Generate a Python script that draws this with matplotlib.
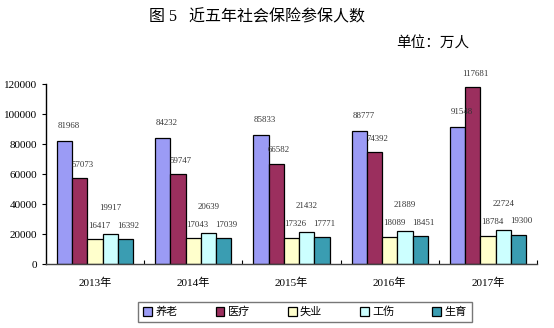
import numpy as np
import matplotlib.pyplot as plt
from matplotlib.ticker import MultipleLocator

plt.rcParams['font.family'] = ['Liberation Serif', 'Noto Sans CJK SC', 'DejaVu Sans']

years = ['2013年', '2014年', '2015年', '2016年', '2017年']
series = ['养老', '医疗', '失业', '工伤', '生育']
yanglao = [81968, 84232, 85833, 88777, 91548]
yiliao = [57073, 59747, 66582, 74392, 117681]
shiye = [16417, 17043, 17326, 18089, 18784]
gongshang = [19917, 20639, 21432, 21889, 22724]
shengyu = [16392, 17039, 17771, 18451, 19300]
colors = ['#9b9bf5', '#9b2f5e', '#ffffcc', '#ccffff', '#3a9db2']

data = [yanglao, yiliao, shiye, gongshang, shengyu]

fig = plt.figure(figsize=(5.54, 3.28), dpi=100)
ax = fig.add_axes([46/554, 64/328, 491/554, 180/328])

x = np.arange(len(years))
w = 0.155
# label offsets in points (dx, dy)
offs = [(3, 8), (2, 7), (3, 7), (0, 16), (2, 7)]
for i, (vals, c) in enumerate(zip(data, colors)):
    pos = x - 2 * w + i * w
    ax.bar(pos, vals, w, color=c, edgecolor='black', linewidth=0.9, label=series[i])
    for p, v in zip(pos, vals):
        ax.annotate(str(v), (p, v), xytext=offs[i], textcoords='offset points',
                    ha='center', va='bottom', fontsize=6.3, color='#333333')

ax.set_xlim(-0.5, 4.5)
ax.set_ylim(0, 120000)
ax.yaxis.set_major_locator(MultipleLocator(20000))
ax.set_xticks(x)
ax.set_xticklabels(years, fontsize=8)
ax.set_xticks(np.arange(0.5, 5, 1), minor=True)
ax.tick_params(axis='x', which='major', length=0, pad=10)
ax.tick_params(axis='x', which='minor', direction='in', length=3, width=0.8)
ax.tick_params(axis='y', direction='out', length=3, width=0.8, labelsize=8)
for s in ['top', 'right']:
    ax.spines[s].set_visible(False)
ax.spines['left'].set_linewidth(1.0)
ax.spines['bottom'].set_linewidth(1.0)
ax.spines['bottom'].set_color('#444444')

fig.text(257/554, 1 - 17/328, '图 5   近五年社会保险参保人数', ha='center', va='center', fontsize=11.5)
fig.text(469/554, 1 - 44/328, '单位：万人', ha='right', va='center', fontsize=10.5)

leg = fig.legend(loc='center', bbox_to_anchor=(305/554, 1 - 312/328), ncol=5,
                 fontsize=8, frameon=True, fancybox=False, edgecolor='#555555',
                 handlelength=0.8, handleheight=0.8, columnspacing=3.4,
                 handletextpad=0.3, borderpad=0.45, borderaxespad=0)
leg.get_frame().set_linewidth(1.0)

fig.savefig('out.png', dpi=100)
